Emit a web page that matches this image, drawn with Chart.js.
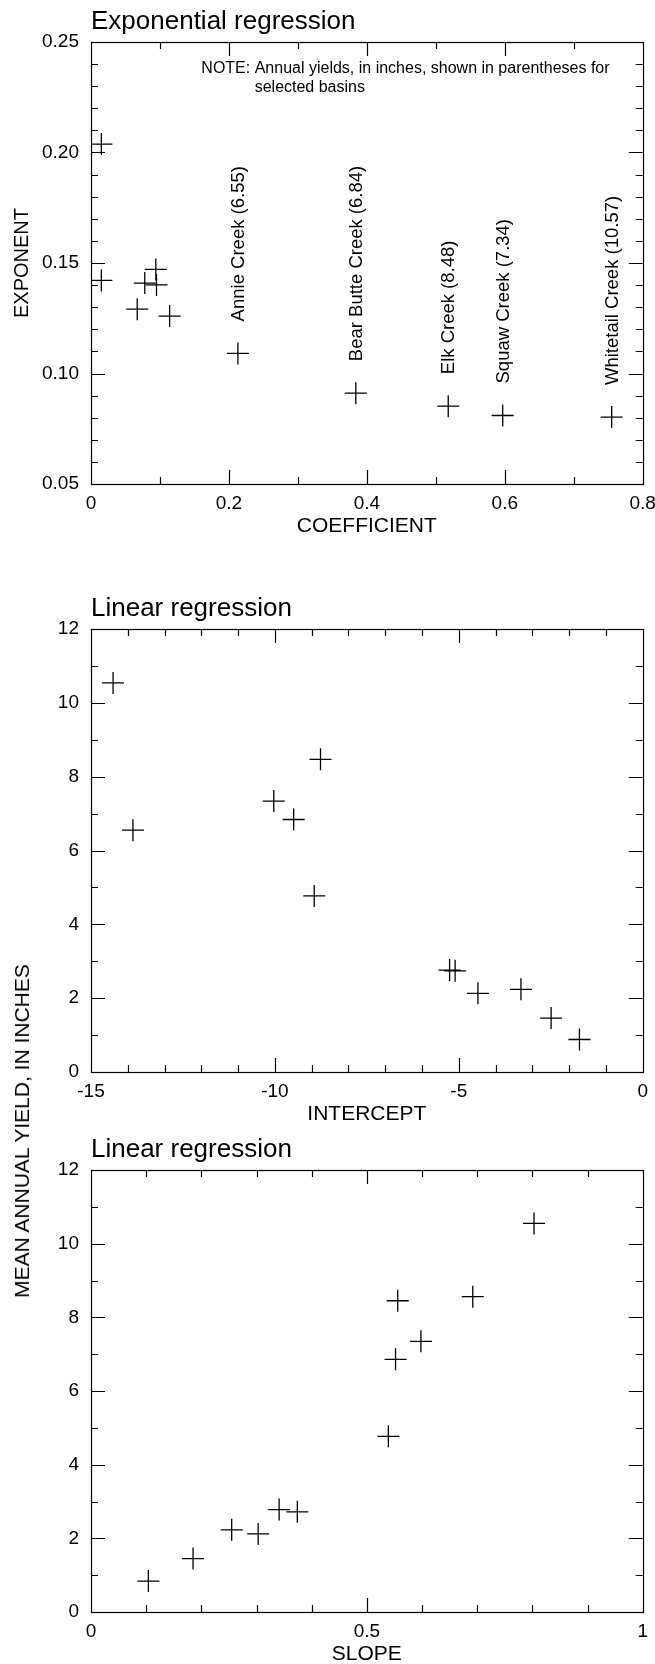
<!DOCTYPE html>
<html>
<head>
<meta charset="utf-8">
<title>Regression coefficients</title>
<script src="https://cdn.jsdelivr.net/npm/chart.js@4.4.1/dist/chart.umd.min.js"></script>
<style>
  body { margin: 0; background: #fff; width: 655px; height: 1664px; position: relative; overflow: hidden; }
  .box { position: absolute; left: 0; width: 655px; }
  #yieldLabel {
    position: absolute; left: 22px; top: 1131px; white-space: nowrap;
    font: 21px "Liberation Sans", Arial, Helvetica, sans-serif; color: #000;
    transform: translate(-50%, -50%) rotate(-90deg);
  }
</style>
</head>
<body>
<div class="box" style="top:0px"><canvas id="expChart" width="655" height="545"></canvas></div>
<div class="box" style="top:575px"><canvas id="interceptChart" width="655" height="555"></canvas></div>
<div class="box" style="top:1130px"><canvas id="slopeChart" width="655" height="534"></canvas></div>
<div id="yieldLabel">MEAN ANNUAL YIELD, IN INCHES</div>
<script>
// exponential regression: coefficient and exponent for each basin
var expCoefficient = [0.015, 0.015, 0.067, 0.078, 0.094, 0.095, 0.114, 0.213, 0.384, 0.518, 0.597, 0.755];
var expExponent = [0.2038, 0.1421, 0.1291, 0.1409, 0.1471, 0.1401, 0.1260, 0.1091, 0.0911, 0.0852, 0.0810, 0.0803];
var expBasins = ['', '', '', '', '', '', '', 'Annie Creek (6.55)', 'Bear Butte Creek (6.84)',
  'Elk Creek (8.48)', 'Squaw Creek (7.34)', 'Whitetail Creek (10.57)'];

// linear regression: intercept vs mean annual yield
var linIntercept = [-14.40, -13.86, -10.03, -9.49, -8.76, -8.93, -5.25, -5.10, -4.48, -3.31, -2.49, -1.72];
var linYieldA = [10.54, 6.55, 7.34, 6.84, 8.47, 4.77, 2.76, 2.74, 2.13, 2.24, 1.46, 0.88];

// linear regression: slope vs mean annual yield
var linSlope = [0.104, 0.185, 0.255, 0.303, 0.341, 0.374, 0.539, 0.552, 0.556, 0.598, 0.692, 0.803];
var linYieldB = [0.84, 1.45, 2.23, 2.12, 2.78, 2.72, 4.77, 6.86, 8.45, 7.35, 8.56, 10.55];

// tick labels
var coefTicks = [0, 0.2, 0.4, 0.6, 0.8];
var exponentTicks = [0.05, 0.10, 0.15, 0.20, 0.25];
var interceptTicks = [-15, -10, -5, 0];
var slopeTicks = [0, 0.5, 1];
var yieldTicks = [0, 2, 4, 6, 8, 10, 12];

var FONT = '"Liberation Sans", Arial, Helvetica, sans-serif';

function toPoints(xs, ys) {
    return xs.map(function (x, i) { return { x: x, y: ys[i] }; });
}

// inward tick marks on all four sides plus the frame
var frameTicks = {
    id: 'frameTicks',
    afterDatasetsDraw: function (chart, args, opts) {
        var ctx = chart.ctx, a = chart.chartArea;
        ctx.save();
        ctx.strokeStyle = '#000';
        ctx.lineWidth = 1.2;
        ctx.strokeRect(Math.round(a.left) + 0.5, Math.round(a.top) + 0.5,
            Math.round(a.right - a.left), Math.round(a.bottom - a.top));
        ['x', 'y'].forEach(function (id) {
            var s = chart.scales[id], o = opts[id];
            var n = Math.round((s.max - s.min) / o.minor);
            for (var i = 1; i < n; i++) {
                var v = s.min + i * o.minor;
                var r = v / o.major;
                var len = Math.abs(r - Math.round(r)) < 1e-6 ? 14 : 7;
                var p = Math.round(s.getPixelForValue(v)) + 0.5;
                ctx.beginPath();
                if (id === 'x') {
                    ctx.moveTo(p, a.bottom); ctx.lineTo(p, a.bottom - len);
                    ctx.moveTo(p, a.top); ctx.lineTo(p, a.top + len);
                } else {
                    ctx.moveTo(a.left, p); ctx.lineTo(a.left + len, p);
                    ctx.moveTo(a.right, p); ctx.lineTo(a.right - len, p);
                }
                ctx.stroke();
            }
        });
        ctx.restore();
    }
};

// chart title, axis titles, note and basin labels
var chartTexts = {
    id: 'chartTexts',
    afterDraw: function (chart, args, opts) {
        var ctx = chart.ctx, a = chart.chartArea;
        ctx.save();
        ctx.fillStyle = '#000';
        ctx.font = '26px ' + FONT;
        ctx.textAlign = 'left';
        ctx.textBaseline = 'alphabetic';
        ctx.fillText(opts.title, a.left, a.top - 13);

        ctx.font = '21px ' + FONT;
        ctx.textAlign = 'center';
        ctx.textBaseline = 'middle';
        ctx.fillText(opts.xTitle, (a.left + a.right) / 2, a.bottom + 42);
        if (opts.yTitle) {
            ctx.save();
            ctx.font = '20px ' + FONT;
            ctx.translate(22, (a.top + a.bottom) / 2);
            ctx.rotate(-Math.PI / 2);
            ctx.fillText(opts.yTitle, 0, 0);
            ctx.restore();
        }

        if (opts.note) {
            var xs = chart.scales.x, ys = chart.scales.y;
            var nx = xs.getPixelForValue(opts.note.x), ny = ys.getPixelForValue(opts.note.y);
            ctx.font = '16px ' + FONT;
            ctx.textAlign = 'left';
            ctx.fillText(opts.note.lines[0], nx, ny);
            ctx.fillText(opts.note.lines[1], nx + ctx.measureText('NOTE: ').width, ny + 19);
        }

        if (opts.labels) {
            var meta = chart.getDatasetMeta(0);
            ctx.font = '18.5px ' + FONT;
            ctx.textAlign = 'left';
            ctx.textBaseline = 'middle';
            opts.labels.forEach(function (txt, i) {
                if (!txt) return;
                var el = meta.data[i];
                ctx.save();
                ctx.translate(el.x + 1, el.y - 32);
                ctx.rotate(-Math.PI / 2);
                ctx.fillText(txt, 0, 0);
                ctx.restore();
            });
        }
        ctx.restore();
    }
};

function makeChart(canvasId, points, xTicks, yTicks, fmtY, padding, ticksOpts, texts) {
    var fixTicks = function (list) {
        return function (scale) {
            scale.ticks = list.map(function (v) { return { value: v }; });
        };
    };
    var config = {
        type: 'scatter',
        data: {
            datasets: [{
                data: points,
                pointStyle: 'cross',
                pointRadius: 11,
                pointHoverRadius: 11,
                borderWidth: 1.3,
                borderColor: '#000',
                backgroundColor: '#000'
            }]
        },
        options: {
            responsive: false,
            animation: false,
            events: [],
            layout: { padding: padding },
            plugins: {
                legend: { display: false },
                tooltip: { enabled: false },
                frameTicks: ticksOpts,
                chartTexts: texts
            },
            scales: {
                x: {
                    type: 'linear',
                    position: 'bottom',
                    min: xTicks[0],
                    max: xTicks[xTicks.length - 1],
                    afterBuildTicks: fixTicks(xTicks),
                    afterFit: function (s) { s.height = 40; s.paddingLeft = 0; s.paddingRight = 0; },
                    grid: { display: false, drawTicks: false },
                    border: { display: false },
                    ticks: {
                        padding: 8, color: '#000', font: { family: FONT, size: 19 },
                        callback: function (v) { return String(v); }
                    }
                },
                y: {
                    type: 'linear',
                    position: 'left',
                    min: yTicks[0],
                    max: yTicks[yTicks.length - 1],
                    afterBuildTicks: fixTicks(yTicks),
                    afterFit: function (s) { s.width = 91; s.paddingTop = 0; s.paddingBottom = 0; },
                    grid: { display: false, drawTicks: false },
                    border: { display: false },
                    ticks: {
                        padding: 12, color: '#000', font: { family: FONT, size: 19 },
                        callback: fmtY
                    }
                }
            }
        },
        plugins: [frameTicks, chartTexts]
    };
    return new Chart(document.getElementById(canvasId), config);
}

var plainFmt = function (v) { return String(v); };

makeChart('expChart', toPoints(expCoefficient, expExponent), coefTicks, exponentTicks,
    function (v) { return v.toFixed(2); },
    { top: 42, right: 12, bottom: 21, left: 0 },
    { x: { minor: 0.1, major: 0.2 }, y: { minor: 0.01, major: 0.05 } },
    {
        title: 'Exponential regression', xTitle: 'COEFFICIENT', yTitle: 'EXPONENT',
        note: { x: 0.16, y: 0.238, lines: ['NOTE: Annual yields, in inches, shown in parentheses for', 'selected basins'] },
        labels: expBasins
    });

makeChart('interceptChart', toPoints(linIntercept, linYieldA), interceptTicks, yieldTicks, plainFmt,
    { top: 54, right: 12, bottom: 18, left: 0 },
    { x: { minor: 1, major: 5 }, y: { minor: 1, major: 2 } },
    { title: 'Linear regression', xTitle: 'INTERCEPT' });

makeChart('slopeChart', toPoints(linSlope, linYieldB), slopeTicks, yieldTicks, plainFmt,
    { top: 40, right: 12, bottom: 12, left: 0 },
    { x: { minor: 0.1, major: 0.5 }, y: { minor: 1, major: 2 } },
    { title: 'Linear regression', xTitle: 'SLOPE' });
</script>
</body>
</html>
